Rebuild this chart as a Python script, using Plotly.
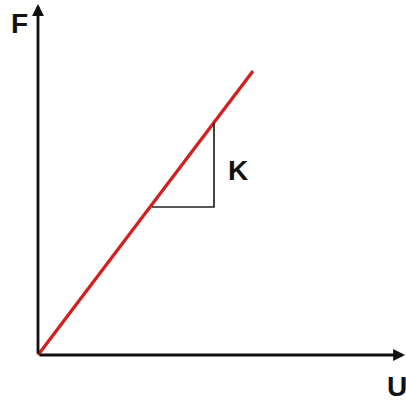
import plotly.graph_objects as go

# Force-displacement relation: F = K * U (linear spring)
u_line = [0, 215]
f_line = [0, 284]

# Slope triangle marking the stiffness K
tri_u = [114, 176, 176]
tri_f = [148, 148, 232]

axis_end_u = 367
axis_end_f = 351

fig = go.Figure()
fig.add_trace(go.Scatter(x=u_line, y=f_line, mode="lines",
                         line=dict(color="#d21f1f", width=3.3), hoverinfo="skip"))
fig.add_trace(go.Scatter(x=tri_u, y=tri_f, mode="lines",
                         line=dict(color="#222222", width=1.7), hoverinfo="skip"))

# Axes drawn as arrows from the origin
for (xe, ye) in [(axis_end_u, 0), (0, axis_end_f)]:
    fig.add_annotation(x=xe, y=ye, ax=0, ay=0, xref="x", yref="y", axref="x", ayref="y",
                       showarrow=True, arrowhead=2, arrowsize=0.85, arrowwidth=2.8,
                       arrowcolor="#111111", text="")

font = dict(family="Liberation Sans, Arial", size=28, color="#111111", weight="bold")
fig.add_annotation(x=-19, y=332, text="<b>F</b>", showarrow=False, font=font)
fig.add_annotation(x=359, y=-31, text="<b>U</b>", showarrow=False, font=font)
fig.add_annotation(x=200, y=185, text="<b>K</b>", showarrow=False, font=font)

fig.update_layout(
    width=406, height=401, margin=dict(l=0, r=0, t=0, b=0),
    plot_bgcolor="white", paper_bgcolor="white", showlegend=False,
    xaxis=dict(range=[-38, 368], visible=False, fixedrange=True),
    yaxis=dict(range=[-46, 355], visible=False, fixedrange=True),
)

fig.write_html("out.html")
